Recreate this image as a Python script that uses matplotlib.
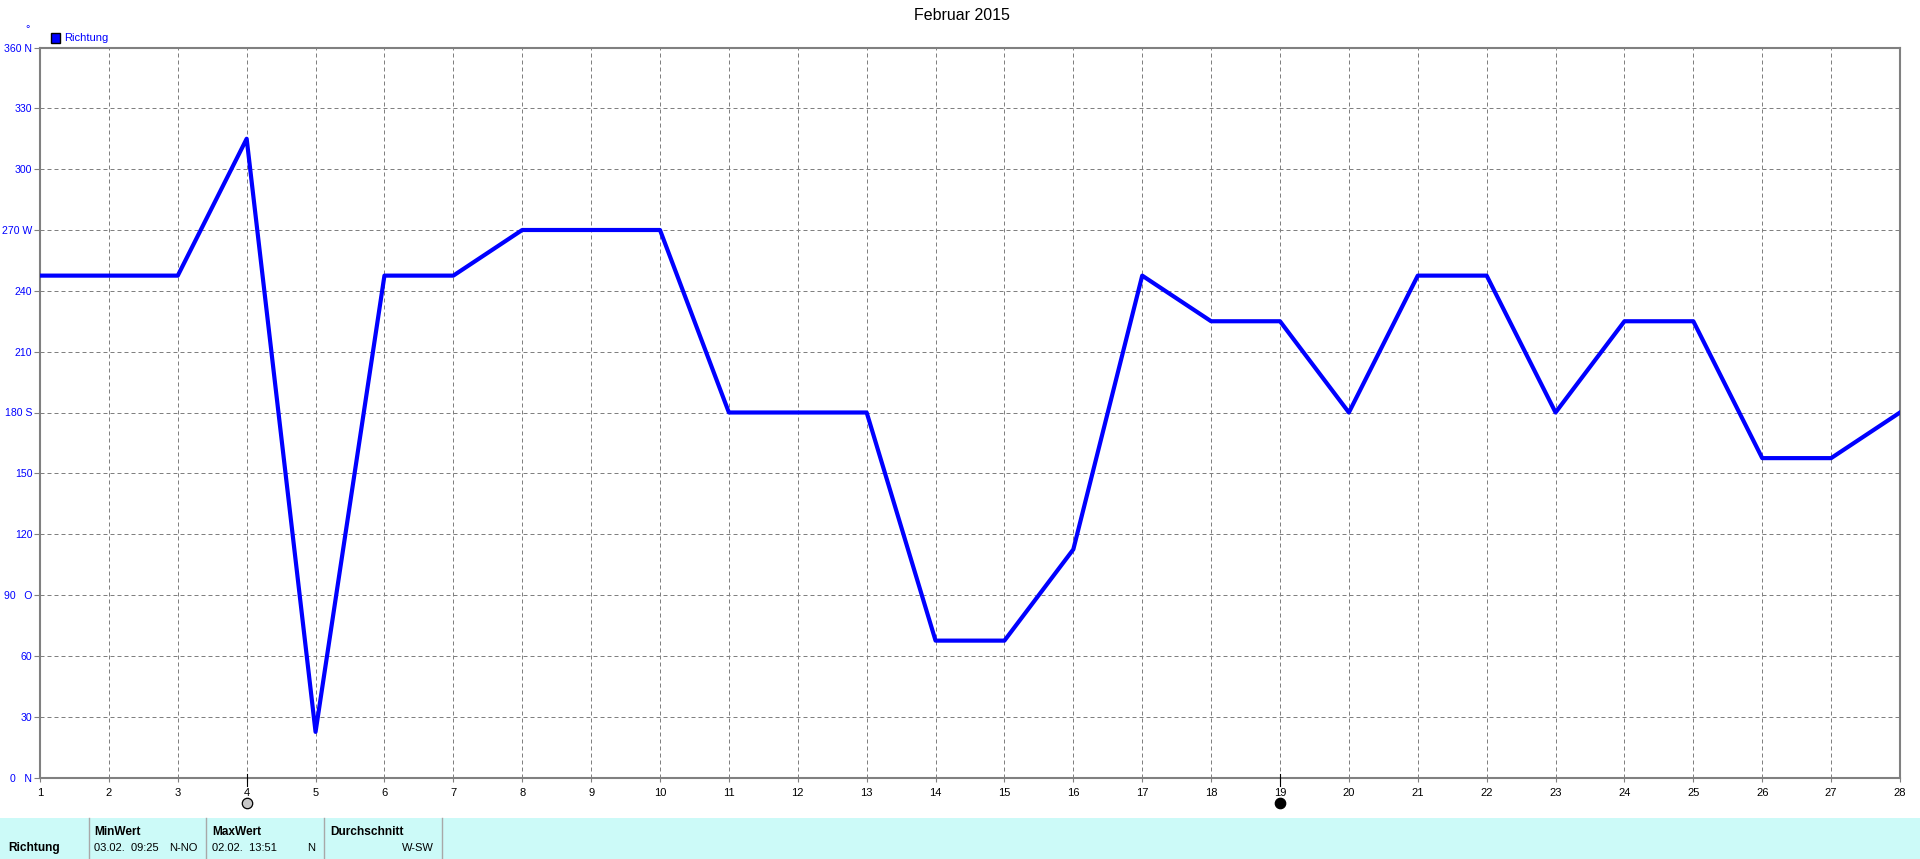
import matplotlib
matplotlib.use("Agg")
import matplotlib.pyplot as plt
from matplotlib.patches import Rectangle

plt.rcParams['font.family'] = ['Liberation Sans', 'DejaVu Sans']

# wind direction per day, february 2015
days = list(range(1, 29))
richtung = [247.5, 247.5, 247.5, 315, 22.5, 247.5, 247.5, 270, 270, 270, 180, 180, 180, 67.5,
            67.5, 112.5, 247.5, 225, 225, 180, 247.5, 247.5, 180, 225, 225, 157.5, 157.5, 180]
y_ticks = [0, 30, 60, 90, 120, 150, 180, 210, 240, 270, 300, 330, 360]
y_labels = ['0   N', '30', '60', '90   O', '120', '150', '180 S', '210', '240', '270 W', '300', '330', '360 N']
moon_days = [4, 19]
moon_colors = ['#c8c8c8', 'black']

panel_heads = ['MinWert', 'MaxWert', 'Durchschnitt']
panel_times = ['03.02.  09:25', '02.02.  13:51', '']
panel_dirs = ['N-NO', 'N', 'W-SW']

W, H = 1920, 859
GREY = '#808080'
BLUE = '#0000ff'
FS = 8.0

fig = plt.figure(figsize=(W / 100, H / 100), dpi=100, facecolor='white')
ax = fig.add_axes([40 / W, 1 - 777.5 / H, (1900 - 40) / W, (777.5 - 47.5) / H])

ax.plot(days, richtung, color=BLUE, lw=3.0, solid_joinstyle='round', clip_on=True, zorder=3)
ax.set_xlim(1, 28)
ax.set_ylim(0, 360)
ax.set_xticks(days)
ax.set_yticks(y_ticks)
ax.set_yticklabels(y_labels, color=BLUE, fontsize=7.6)
ax.tick_params(axis='x', length=3, width=0.8, color=GREY, labelsize=FS, pad=4.5)
ax.tick_params(axis='y', length=4, width=0.8, color=GREY, pad=1.5)
ax.grid(True, color=GREY, ls=(0, (4, 3)), lw=0.72)
ax.set_axisbelow(True)
for s in ax.spines.values():
    s.set_color(GREY)
    s.set_linewidth(1.5)

# moon phase ticks + symbols under the axis
trans = ax.get_xaxis_transform()
for d, c in zip(moon_days, moon_colors):
    ax.plot([d, d], [0.005, -0.011], color='black', lw=0.8, transform=trans, clip_on=False, zorder=4)
    ax.plot([d], [-0.0349], marker='o', ms=7.5, mfc=c, mec='black', mew=0.9, transform=trans, clip_on=False)

fig.text(962 / W, 1 - 15 / H, 'Februar 2015', ha='center', va='center', fontsize=11.5)
fig.text(28 / W, 1 - 29 / H, '°', ha='center', va='center', fontsize=8, color=BLUE)
fig.add_artist(Rectangle((50.5 / W, 1 - 42.5 / H), 9 / W, 9 / H, transform=fig.transFigure,
                         fc=BLUE, ec='black', lw=1))
fig.text(64.5 / W, 1 - 38 / H, 'Richtung', ha='left', va='center', fontsize=FS, color=BLUE)

# bottom info panel
fig.add_artist(Rectangle((0, 0), 1, 41 / H, transform=fig.transFigure, fc='#ccfaf8', ec='none'))
for x in [88.5, 206, 324, 441.5]:
    fig.add_artist(plt.Line2D([x / W, x / W], [0, 41 / H], color='#a8a8a8', lw=1))
fig.text(8 / W, 1 - 848 / H, 'Richtung', fontsize=8.6, fontweight='bold', va='center')
head_x = [94, 212, 330]
dir_x = [197, 315, 434]
for hx, dx, head, tm, dr in zip(head_x, dir_x, panel_heads, panel_times, panel_dirs):
    fig.text(hx / W, 1 - 832 / H, head, fontsize=8.6, fontweight='bold', va='center')
    fig.text(hx / W, 1 - 848 / H, tm, fontsize=FS, va='center')
    fig.text(dx / W, 1 - 848 / H, dr, fontsize=FS, va='center', ha='right')

fig.savefig('out.png', dpi=100)
